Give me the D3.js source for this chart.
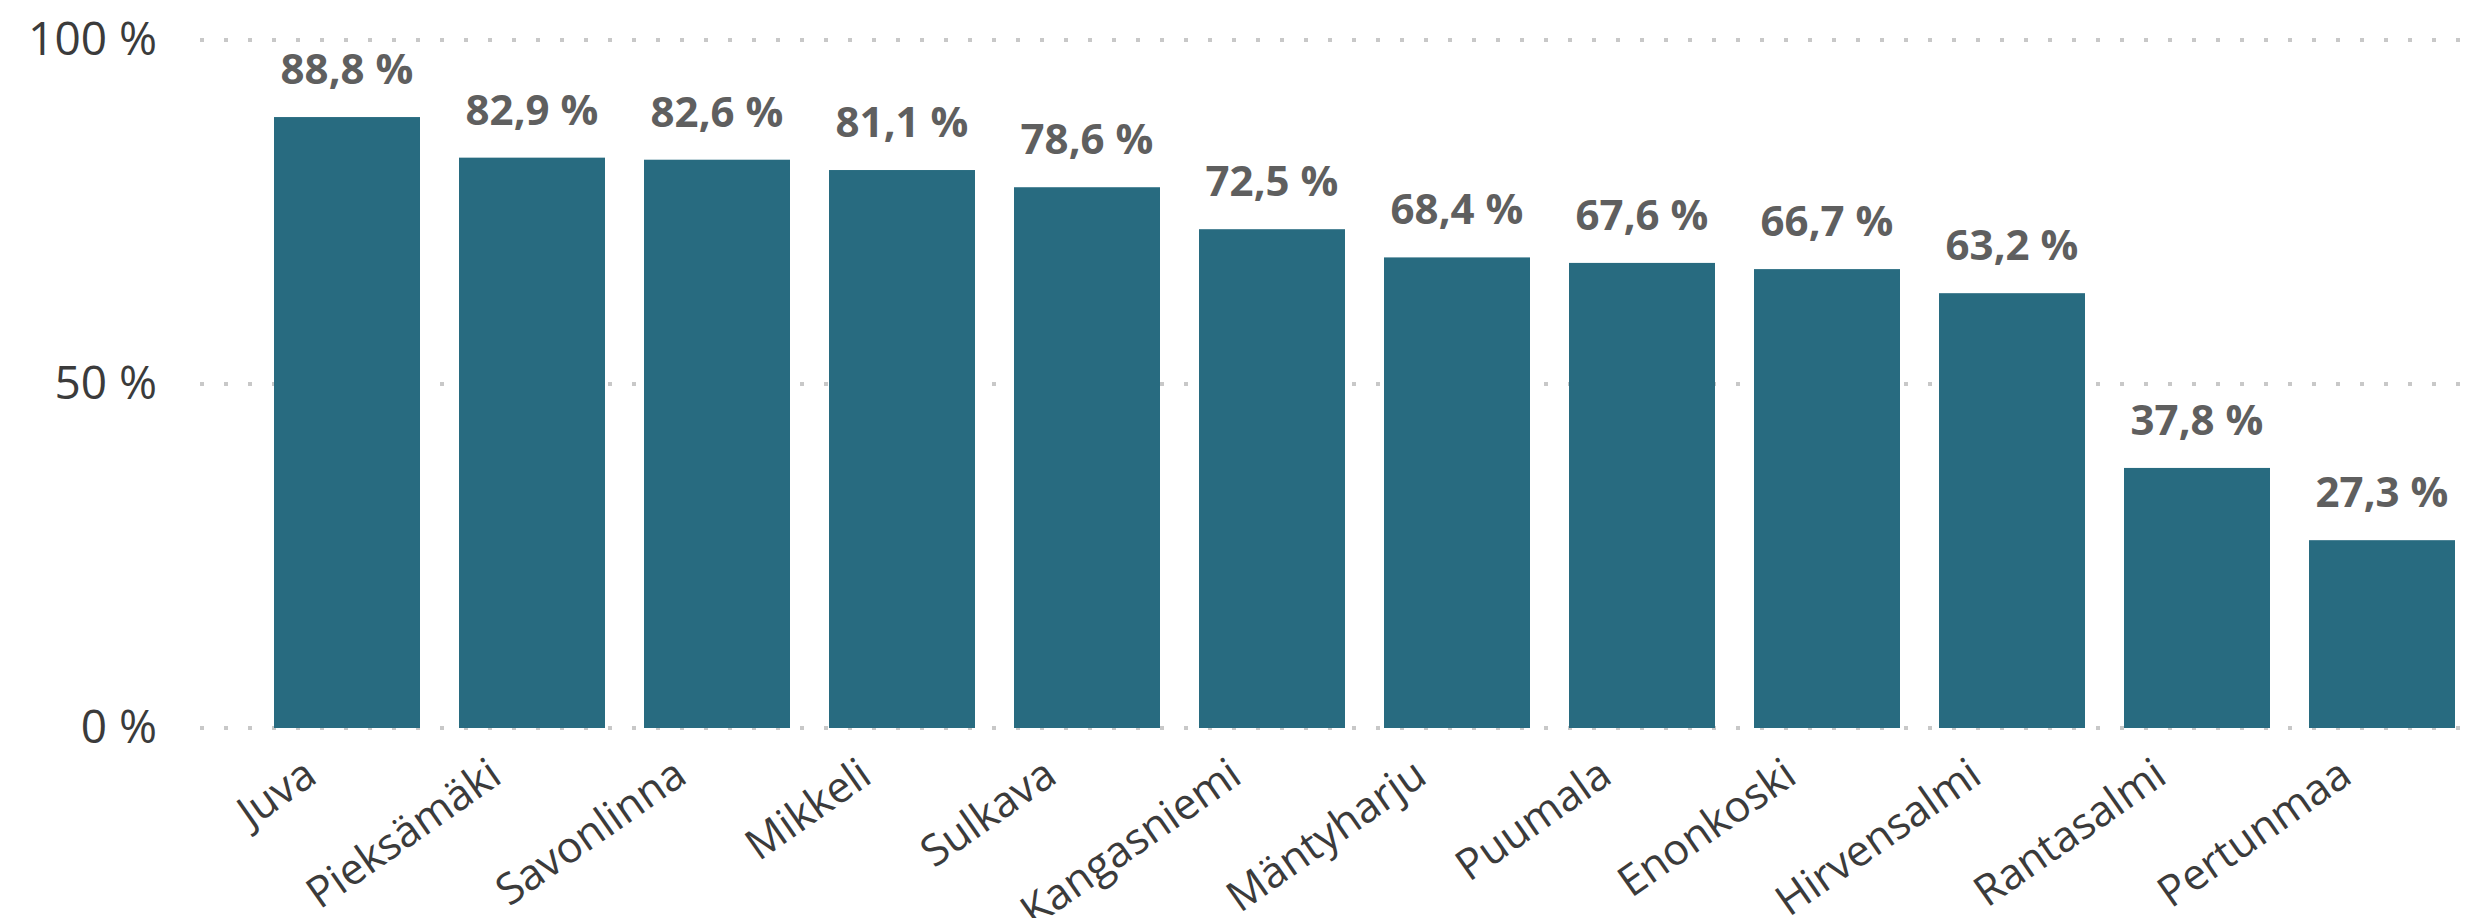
<!DOCTYPE html>
<html>
<head>
<meta charset="utf-8">
<script src="https://cdn.jsdelivr.net/npm/d3@7"></script>
<style>
  html, body { margin: 0; padding: 0; background: #ffffff; }
  svg { display: block; }
</style>
</head>
<body>
<svg id="chart" width="2468" height="918"></svg>
<script>
const categories = ["Juva", "Pieksämäki", "Savonlinna", "Mikkeli", "Sulkava", "Kangasniemi", "Mäntyharju", "Puumala", "Enonkoski", "Hirvensalmi", "Rantasalmi", "Pertunmaa"];
const values = [88.8, 82.9, 82.6, 81.1, 78.6, 72.5, 68.4, 67.6, 66.7, 63.2, 37.8, 27.3];
const yTicks = [0, 50, 100];

const svg = d3.select("#chart");
const fontFamily = "'Open Sans', 'Noto Sans', sans-serif";

const step = 185, inner = 39 / 185;
const x = d3.scaleBand()
  .domain(categories)
  .range([274 - step * inner / 2, 274 - step * inner / 2 + step * 12])
  .paddingInner(inner)
  .paddingOuter(inner / 2);

const y = d3.scaleLinear().domain([0, 100]).range([728, 40]);

// gridlines
svg.append("g").selectAll("line").data(yTicks).join("line")
  .attr("x1", 200).attr("x2", 2462)
  .attr("y1", d => y(d)).attr("y2", d => y(d))
  .attr("stroke", "#c8c8c8").attr("stroke-width", 4)
  .attr("stroke-dasharray", "4,20");

// y axis labels
const yAxis = d3.axisLeft(y).tickValues(yTicks).tickSize(0).tickPadding(0)
  .tickFormat(d => d + " %");
svg.append("g").attr("transform", "translate(157,0)").call(yAxis)
  .call(g => g.select(".domain").remove())
  .selectAll("text")
  .attr("font-family", fontFamily).attr("font-size", 46).attr("fill", "#3b3b3b");

// bars
svg.append("g").selectAll("rect").data(values).join("rect")
  .attr("x", (d, i) => x(categories[i]))
  .attr("width", x.bandwidth())
  .attr("y", d => y(d))
  .attr("height", d => y(0) - y(d))
  .attr("fill", "#286b80");

// value labels
svg.append("g").selectAll("text").data(values).join("text")
  .attr("x", (d, i) => x(categories[i]) + x.bandwidth() / 2)
  .attr("y", d => y(d) - 33)
  .attr("text-anchor", "middle")
  .attr("font-family", fontFamily).attr("font-weight", "bold")
  .attr("font-size", 42).attr("fill", "#5f5f5f")
  .text(d => d.toFixed(1).replace(".", ",") + " %");

// x labels
svg.append("g").selectAll("text").data(categories).join("text")
  .attr("transform", d => `translate(${x(d) + x.bandwidth() / 2 - 28},781) rotate(-35)`)
  .attr("text-anchor", "end")
  .attr("font-family", fontFamily).attr("font-size", 43).attr("fill", "#3b3b3b")
  .text(d => d);
</script>
</body>
</html>
